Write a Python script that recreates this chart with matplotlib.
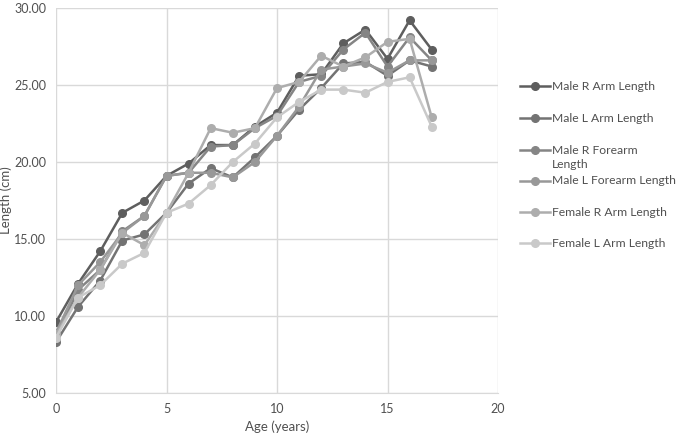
import matplotlib
matplotlib.use("Agg")
import matplotlib.pyplot as plt
from matplotlib.lines import Line2D
import matplotlib.ticker as mticker

ages = list(range(18))
male_r_arm = [9.6, 12.1, 14.2, 16.7, 17.5, 19.1, 19.9, 21.1, 21.1, 22.3, 23.2, 25.6, 25.7, 27.7, 28.6, 26.7, 29.2, 27.3]
male_l_arm = [8.3, 10.6, 12.3, 14.9, 15.3, 16.7, 18.6, 19.6, 19.0, 20.3, 21.7, 23.4, 24.8, 26.4, 26.5, 25.6, 26.6, 26.2]
male_r_forearm = [8.6, 11.7, 13.0, 15.5, 16.5, 19.1, 19.3, 21.0, 21.1, 22.2, 23.0, 25.2, 25.6, 27.3, 28.4, 26.2, 28.1, 26.6]
male_l_forearm = [8.9, 12.0, 13.5, 15.4, 16.5, 19.1, 19.3, 19.3, 19.0, 20.0, 21.7, 23.6, 26.0, 26.2, 26.4, 25.8, 26.6, 26.6]
female_r_arm = [8.8, 11.2, 13.0, 15.4, 14.6, 16.7, 19.3, 22.2, 21.9, 22.2, 24.8, 25.2, 26.9, 26.2, 26.8, 27.8, 28.0, 22.9]
female_l_arm = [8.6, 11.2, 12.0, 13.4, 14.1, 16.7, 17.3, 18.5, 20.0, 21.2, 22.9, 23.9, 24.7, 24.7, 24.5, 25.2, 25.5, 22.3]

series_names = ["Male R Arm Length", "Male L Arm Length", "Male R Forearm\nLength",
                "Male L Forearm Length", "Female R Arm Length", "Female L Arm Length"]
series_values = [male_r_arm, male_l_arm, male_r_forearm, male_l_forearm, female_r_arm, female_l_arm]
colors = ["#5e5e5e", "#737373", "#858585", "#989898", "#adadad", "#c9c9c9"]

plt.rcParams['font.family'] = ['Lato', 'DejaVu Sans']

W, H = 679, 443
fig = plt.figure(figsize=(W / 100, H / 100), dpi=100)
ax = fig.add_axes([56 / W, 1 - 393 / H, (498 - 56) / W, (393 - 8) / H])

LW, MS = 1.8, 5.5
for vals, c in zip(series_values, colors):
    ax.plot(ages, vals, color=c, lw=LW, marker='o', ms=MS, mec=c, mfc=c, zorder=3)

ax.set_xlim(0, 20)
ax.set_ylim(5, 30)
ax.set_xticks([0, 5, 10, 15, 20])
ax.set_yticks([5, 10, 15, 20, 25, 30])
ax.yaxis.set_major_formatter(mticker.FormatStrFormatter('%.2f'))
ax.grid(True, color='#d9d9d9', lw=1.0, zorder=0)
for s in ax.spines.values():
    s.set_visible(False)
ax.spines['bottom'].set_visible(True)
ax.spines['bottom'].set_color('#d9d9d9')
ax.tick_params(length=0, labelsize=9, colors='#505050', pad=7)
ax.set_xlabel("Age (years)", fontsize=9.5, color='#505050', labelpad=4)
ax.set_ylabel("Length (cm)", fontsize=9.5, color='#505050')
ax.yaxis.set_label_coords(-44 / 442, 0.5)

# manual legend
ys = [86, 118, 150, 181, 212, 243]
for name, c, y in zip(series_names, colors, ys):
    yf = 1 - y / H
    fig.add_artist(Line2D([520 / W, 550 / W], [yf, yf], color=c, lw=LW,
                          transform=fig.transFigure))
    fig.add_artist(Line2D([535 / W], [yf], color=c, marker='o', ms=MS,
                          transform=fig.transFigure))
    lines = name.split("\n")
    for i, part in enumerate(lines):
        fig.text(552 / W, 1 - (y + 15 * i) / H, part, fontsize=8.7, color='#505050',
                 va='center', transform=fig.transFigure)

fig.savefig("out.png", dpi=100)
